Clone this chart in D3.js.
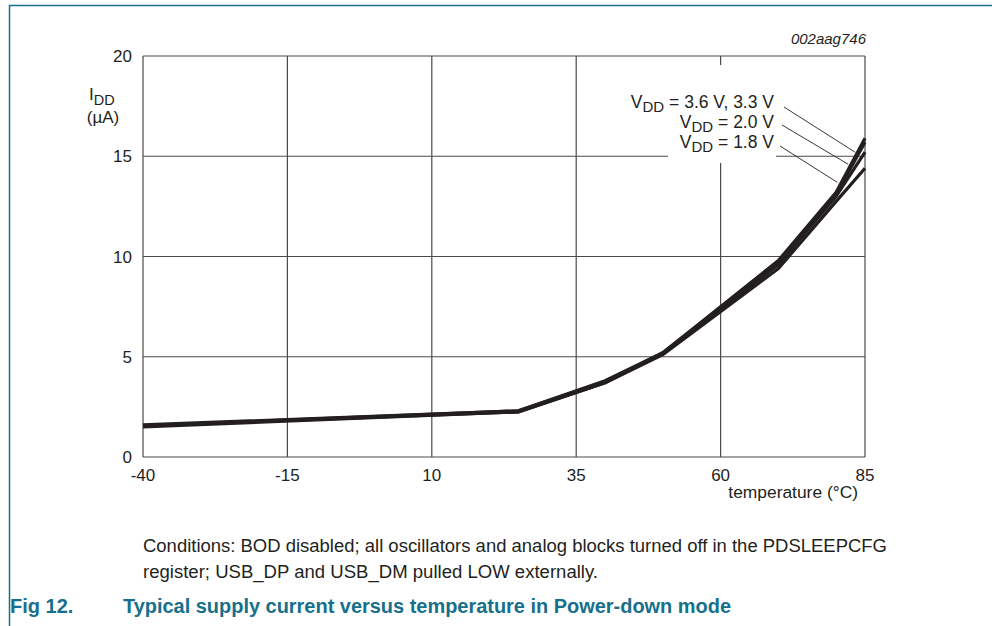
<!DOCTYPE html>
<html>
<head>
<meta charset="utf-8">
<script src="https://cdn.jsdelivr.net/npm/d3@7"></script>
<style>
  body { margin: 0; background: #fff; }
  svg text { font-family: "Liberation Sans", Arial, sans-serif; fill: #231f20; }
</style>
</head>
<body>
<div id="chart"></div>
<script>
// Data
const temps = [-40, 25, 40, 50, 70, 80, 85];
const idd36 = [1.55, 2.3, 3.8, 5.2, 9.8, 13.2, 15.9];
const idd33 = [1.6, 2.3, 3.75, 5.2, 9.7, 13.1, 15.7];
const idd20 = [1.55, 2.25, 3.7, 5.15, 9.6, 13.0, 15.2];
const idd18 = [1.5, 2.25, 3.7, 5.1, 9.4, 12.75, 14.4];
const xTicks = [-40, -15, 10, 35, 60, 85];
const yTicks = [0, 5, 10, 15, 20];
const labels = ["3.6 V, 3.3 V", "2.0 V", "1.8 V"];

const W = 992, H = 626;
const TEAL = "#17708b";

const svg = d3.select("#chart").append("svg")
  .attr("width", W).attr("height", H);

// page frame
svg.append("path")
  .attr("d", `M9.5,${H} L9.5,5.5 L${W},5.5`)
  .attr("fill", "none").attr("stroke", TEAL).attr("stroke-width", 1.5);

const x = d3.scaleLinear().domain([-40, 85]).range([143, 865]);
const y = d3.scaleLinear().domain([0, 20]).range([457, 56]);

// grid
const grid = svg.append("g").attr("stroke", "#4a4a4a").attr("stroke-width", 1.2);
grid.selectAll(".gx").data(xTicks).join("line")
  .attr("x1", d => x(d)).attr("x2", d => x(d))
  .attr("y1", y(0)).attr("y2", y(20));
grid.selectAll(".gy").data(yTicks).join("line")
  .attr("x1", x(-40)).attr("x2", x(85))
  .attr("y1", d => y(d)).attr("y2", d => y(d));

// tick labels
svg.selectAll(".xt").data(xTicks).join("text")
  .attr("x", d => x(d)).attr("y", 481)
  .attr("text-anchor", "middle").attr("font-size", 17)
  .text(d => d);
svg.selectAll(".yt").data(yTicks).join("text")
  .attr("x", 132).attr("y", d => y(d) + 6)
  .attr("text-anchor", "end").attr("font-size", 17)
  .text(d => d);

// axis titles
const yl = svg.append("text").attr("x", 89).attr("y", 100).attr("font-size", 17);
yl.append("tspan").text("I");
yl.append("tspan").attr("font-size", 14.5).attr("dy", 5).text("DD");
svg.append("text").attr("x", 103).attr("y", 123).attr("text-anchor", "middle")
  .attr("font-size", 17).text("(µA)");
svg.append("text").attr("x", 858).attr("y", 498).attr("text-anchor", "end")
  .attr("font-size", 17.4).text("temperature (°C)");
svg.append("text").attr("x", 866).attr("y", 44).attr("text-anchor", "end")
  .attr("font-size", 15).attr("font-style", "italic").text("002aag746");

// white patch behind the labels
svg.append("rect").attr("x", 668).attr("y", 65).attr("width", 108).attr("height", 98)
  .attr("fill", "#fff");

// curves
const line = d3.line().x((d, i) => x(temps[i])).y(d => y(d));
const series = [idd18, idd20, idd33, idd36];
svg.append("g").selectAll("path").data(series).join("path")
  .attr("d", line)
  .attr("fill", "none").attr("stroke", "#231f20")
  .attr("stroke-width", 3.2).attr("stroke-linejoin", "miter");

// labels with leader lines
const labelY = [108, 128, 148];
const leadStart = [[784, 107], [782, 125], [780, 146]];
const leadEnd = [[83.3, 15.2], [82.1, 14.6], [80.2, 13.7]];
labels.forEach((lab, i) => {
  const t = svg.append("text").attr("x", 774).attr("y", labelY[i])
    .attr("text-anchor", "end").attr("font-size", 17.5);
  t.append("tspan").text("V");
  t.append("tspan").attr("font-size", 15).attr("dy", 4).text("DD");
  t.append("tspan").attr("dy", -4).text(" = " + lab);
  svg.append("line")
    .attr("x1", leadStart[i][0]).attr("y1", leadStart[i][1])
    .attr("x2", x(leadEnd[i][0])).attr("y2", y(leadEnd[i][1]))
    .attr("stroke", "#231f20").attr("stroke-width", 0.9);
});

// caption
svg.append("text").attr("x", 143).attr("y", 552).attr("font-size", 17.5)
  .attr("textLength", 744).attr("lengthAdjust", "spacingAndGlyphs")
  .text("Conditions: BOD disabled; all oscillators and analog blocks turned off in the PDSLEEPCFG");
svg.append("text").attr("x", 143).attr("y", 578).attr("font-size", 17.5)
  .attr("textLength", 455).attr("lengthAdjust", "spacingAndGlyphs")
  .text("register; USB_DP and USB_DM pulled LOW externally.");

svg.append("text").attr("x", 10).attr("y", 613).attr("font-size", 20)
  .attr("font-weight", "bold").style("fill", TEAL).text("Fig 12.");
svg.append("text").attr("x", 123).attr("y", 613).attr("font-size", 20)
  .attr("font-weight", "bold").style("fill", TEAL)
  .attr("textLength", 608).attr("lengthAdjust", "spacingAndGlyphs")
  .text("Typical supply current versus temperature in Power-down mode");
</script>
</body>
</html>
